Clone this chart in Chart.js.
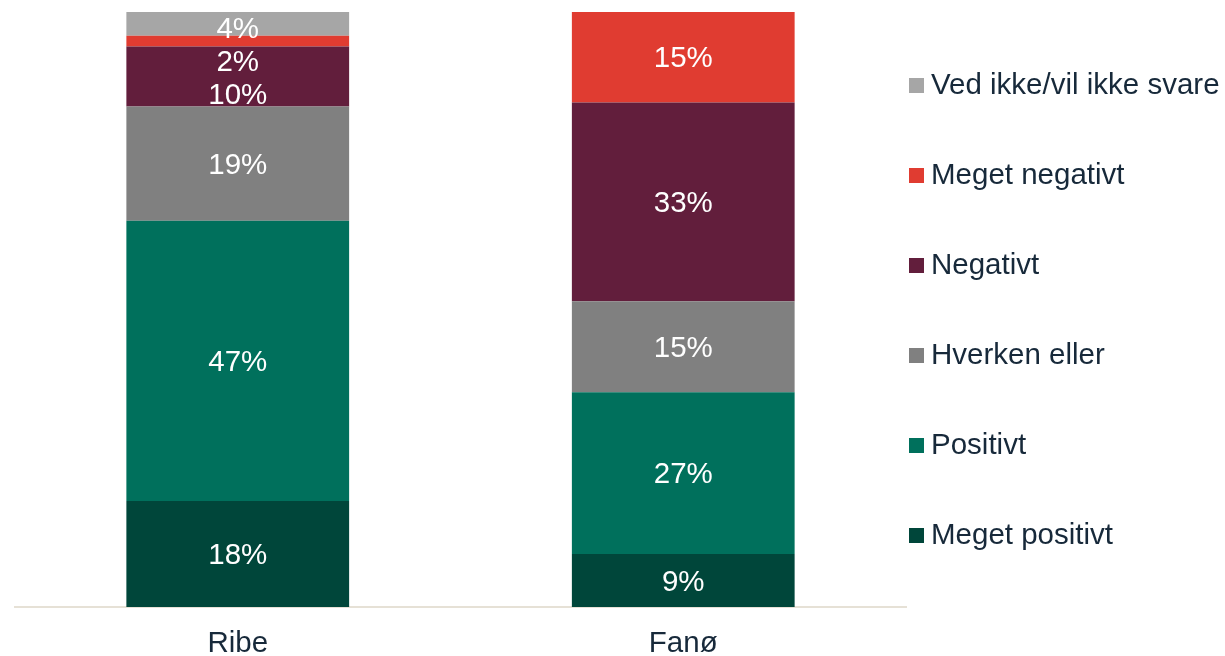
<!DOCTYPE html>
<html>
<head>
<meta charset="utf-8">
<script src="https://cdn.jsdelivr.net/npm/chart.js"></script>
<style>
  body { margin: 0; padding: 0; background: #fff; }
  #wrap { width: 1225px; height: 656px; }
</style>
</head>
<body>
<div id="wrap"><canvas id="chart"></canvas></div>
<script>
  const categories = ["Ribe", "Fanø"];
  const seriesNames = ["Meget positivt", "Positivt", "Hverken eller", "Negativt", "Meget negativt", "Ved ikke/vil ikke svare"];
  const megetPositivt = [17.8, 8.9];
  const positivt = [47.1, 27.2];
  const hverkenEller = [19.2, 15.3];
  const negativt = [10.1, 33.4];
  const megetNegativt = [1.8, 15.2];
  const vedIkke = [4.0, 0];
  const colors = ["#00463a", "#00705c", "#808080", "#621e3c", "#e03c31", "#a6a6a6"];

  const textColor = "#17293a";
  const fontFamily = "'Liberation Sans', Arial, sans-serif";
  const fontSize = 29.5;
  const allSeries = [megetPositivt, positivt, hverkenEller, negativt, megetNegativt, vedIkke];

  // percent labels inside each segment; small segments at the top get pushed down so labels don't collide
  const segLabels = {
    id: "segLabels",
    afterDatasetsDraw(chart) {
      const ctx = chart.ctx;
      const minGap = 33;
      ctx.save();
      ctx.font = fontSize + "px " + fontFamily;
      ctx.fillStyle = "#ffffff";
      ctx.textAlign = "center";
      ctx.textBaseline = "middle";
      chart.data.labels.forEach((_, j) => {
        let prevY = chart.chartArea.top + 18 - minGap;
        for (let i = chart.data.datasets.length - 1; i >= 0; i--) {
          const v = chart.data.datasets[i].data[j];
          if (!v) continue;
          const bar = chart.getDatasetMeta(i).data[j];
          const y = Math.max((bar.y + bar.base) / 2 + 2, prevY + minGap);
          ctx.fillText(Math.round(v) + "%", bar.x, y);
          prevY = y;
        }
      });
      ctx.restore();
    }
  };

  // legend on the right, top entry = top segment
  const sideLegend = {
    id: "sideLegend",
    afterDraw(chart) {
      const ctx = chart.ctx;
      ctx.save();
      ctx.font = fontSize + "px " + fontFamily;
      ctx.textBaseline = "middle";
      const n = seriesNames.length;
      for (let k = 0; k < n; k++) {
        const i = n - 1 - k;
        const y = 85.5 + k * 90;
        ctx.fillStyle = colors[i];
        ctx.fillRect(909, y - 7.5, 15, 15);
        ctx.fillStyle = textColor;
        ctx.fillText(seriesNames[i], 931, y);
      }
      ctx.restore();
    }
  };

  new Chart(document.getElementById("chart"), {
    type: "bar",
    data: {
      labels: categories,
      datasets: seriesNames.map((name, i) => ({
        label: name,
        data: allSeries[i],
        backgroundColor: colors[i],
        borderWidth: 0,
        barPercentage: 0.5,
        categoryPercentage: 1
      }))
    },
    options: {
      responsive: true,
      maintainAspectRatio: false,
      animation: false,
      layout: { padding: { left: 15, right: 319, top: 12, bottom: 0 } },
      plugins: {
        legend: { display: false },
        tooltip: { enabled: false }
      },
      scales: {
        x: {
          stacked: true,
          grid: { display: false, drawTicks: false, tickLength: 0 },
          border: { color: "#e6e1d6", width: 2 },
          ticks: { color: textColor, font: { size: fontSize, family: fontFamily }, padding: 19 },
          afterFit(scale) { scale.height = 49; }
        },
        y: {
          stacked: true,
          display: false,
          min: 0,
          max: 100
        }
      }
    },
    plugins: [segLabels, sideLegend]
  });
</script>
</body>
</html>
